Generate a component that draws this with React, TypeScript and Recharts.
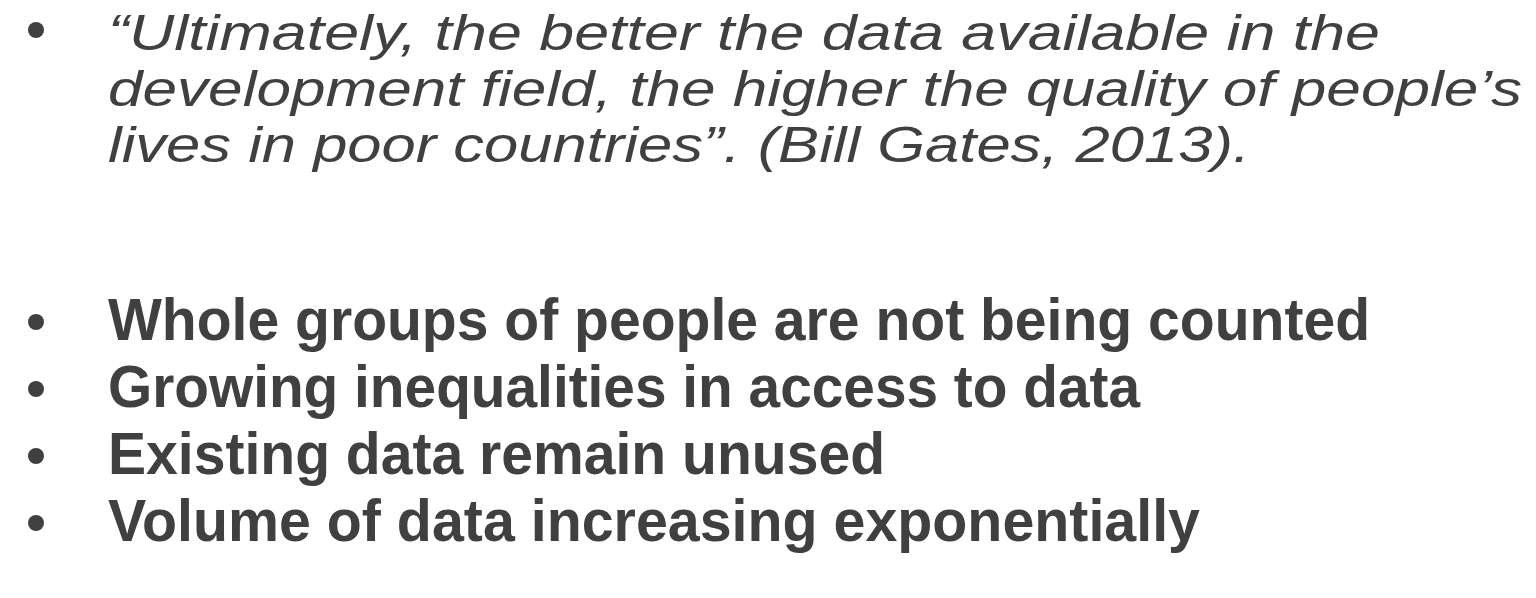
import { Surface } from "recharts";

const quoteLines = [
  "“Ultimately, the better the data available in the",
  "development field, the higher the quality of people’s",
  "lives in poor countries”. (Bill Gates, 2013).",
];
const quoteWidths = [1272, 1414, 1142];

const bulletPoints = [
  "Whole groups of people are not being counted",
  "Growing inequalities in access to data",
  "Existing data remain unused",
  "Volume of data increasing exponentially",
];
const bulletWidths = [1262, 1032, 777, 1092];

const INK = "#404040";

export default function App() {
  return (
    <div style={{ position: "absolute", left: 0, top: 0, width: 1536, height: 598, background: "#fff" }}>
      <Surface width={1536} height={598} viewBox={{ x: 0, y: 0, width: 1536, height: 598 }}>
        {/* quote */}
        <circle cx={36} cy={30} r={8} fill={INK} />
        {quoteLines.map((line, i) => (
          <text
            key={line}
            x={108}
            y={50 + i * 56}
            fill={INK}
            fontFamily="'Liberation Sans', Arial, sans-serif"
            fontStyle="italic"
            fontSize={50}
            textLength={quoteWidths[i]}
            lengthAdjust="spacingAndGlyphs"
          >
            {line}
          </text>
        ))}
        {/* bullet list */}
        {bulletPoints.map((line, i) => (
          <g key={line}>
            <circle cx={36} cy={322 + i * 67} r={8} fill={INK} />
            <text
              x={108}
              y={340 + i * 67}
              fill={INK}
              fontFamily="'Liberation Sans', Arial, sans-serif"
              fontWeight="bold"
              fontSize={59}
              textLength={bulletWidths[i]}
              lengthAdjust="spacingAndGlyphs"
            >
              {line}
            </text>
          </g>
        ))}
      </Surface>
    </div>
  );
}
